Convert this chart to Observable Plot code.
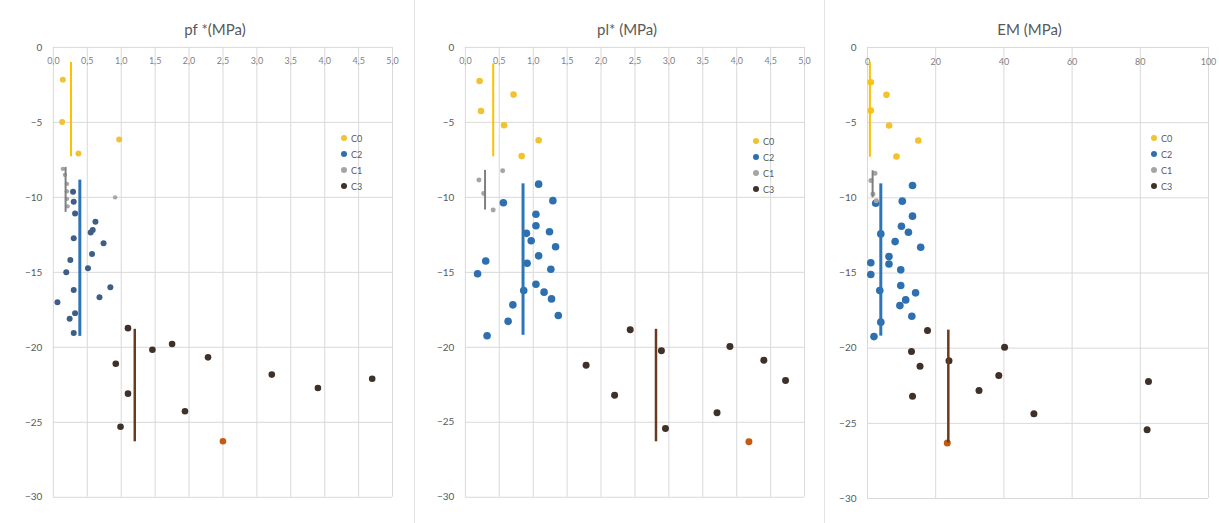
<!DOCTYPE html>
<html><head><meta charset="utf-8">
<script src="https://cdn.jsdelivr.net/npm/d3@7"></script>
<script src="https://cdn.jsdelivr.net/npm/@observablehq/plot@0.6"></script>
<style>
body{margin:0;background:#fff;font-family:Lato,"Liberation Sans",sans-serif;}
#row{display:flex;width:1219px;height:523px;overflow:hidden;}
.panel{position:relative;height:523px;flex:none;}
.sep{border-right:1px solid #e3e3e3;box-sizing:border-box;}
.title{position:absolute;top:20px;font-size:15px;color:#595959;transform:translateX(-50%);white-space:nowrap;}
.legend{position:absolute;font-size:9px;color:#595959;}
.legend div{height:16px;display:flex;align-items:center;}
.legend span{display:inline-block;width:6px;height:6px;border-radius:50%;margin-right:4px;}
</style></head>
<body><div id="row"></div>
<script>
// ---------- data ----------
const classes = ["C0", "C2", "C1", "C3"];
const yTicks = [0, -5, -10, -15, -20, -25, -30];
const mpaTicks = [0, 0.5, 1, 1.5, 2, 2.5, 3, 3.5, 4, 4.5, 5];
const emTicks = [0, 20, 40, 60, 80, 100];
const titles = ["pf *(MPa)", "pl* (MPa)", "EM (MPa)"];

// [value, depth (m)]
const pfC0 = [[0.14, 2.15], [0.13, 4.97], [0.37, 7.07], [0.97, 6.14]];
const pfC1 = [[0.14, 8.1], [0.17, 8.5], [0.2, 9.1], [0.2, 9.6], [0.2, 10.1], [0.21, 10.6], [0.91, 10.0]];
const pfC2 = [[0.29, 9.63], [0.30, 10.29], [0.32, 11.07], [0.62, 11.62], [0.58, 12.18], [0.55, 12.35], [0.30, 12.73],
  [0.74, 13.06], [0.57, 13.77], [0.25, 14.17], [0.51, 14.73], [0.19, 15.0], [0.84, 16.0], [0.30, 16.17],
  [0.68, 16.66], [0.06, 17.0], [0.32, 17.72], [0.24, 18.1], [0.30, 19.05]];
const pfC3 = [[1.10, 18.72], [1.46, 20.16], [1.75, 19.78], [0.92, 21.09], [2.28, 20.67], [3.22, 21.82], [3.90, 22.71],
  [4.70, 22.09], [1.10, 23.09], [1.94, 24.26], [0.99, 25.3], [2.50, 26.26]];
// [class, value, top depth, bottom depth]
const pfLines = [["C0", 0.26, 1.0, 7.3], ["C1", 0.18, 8.0, 11.0], ["C2", 0.39, 8.85, 19.27], ["C3", 1.20, 18.8, 26.3]];

const plC0 = [[0.21, 2.24], [0.71, 3.15], [0.23, 4.24], [0.57, 5.19], [1.08, 6.19], [0.83, 7.25]];
const plC1 = [[0.55, 8.23], [0.20, 8.85], [0.27, 9.74], [0.41, 10.85]];
const plC2 = [[1.08, 9.12], [1.29, 10.22], [0.56, 10.36], [1.04, 11.13], [1.04, 11.89], [0.90, 12.4], [1.24, 12.29],
  [0.97, 12.89], [1.33, 13.29], [1.08, 13.9], [0.30, 14.24], [0.91, 14.4], [1.26, 14.79], [0.18, 15.1],
  [1.04, 15.79], [0.86, 16.21], [1.16, 16.32], [1.27, 16.77], [0.70, 17.17], [1.37, 17.88], [0.63, 18.27], [0.32, 19.23]];
const plC3 = [[2.43, 18.83], [2.89, 20.23], [3.90, 19.94], [1.78, 21.2], [4.40, 20.87], [4.72, 22.22], [2.20, 23.2],
  [3.71, 24.37], [2.95, 25.42], [4.18, 26.3]];
const plLines = [["C0", 0.41, 1.1, 7.3], ["C1", 0.29, 8.2, 10.85], ["C2", 0.85, 9.1, 19.2], ["C3", 2.81, 18.8, 26.3]];

const emC0 = [[0.97, 2.31], [5.56, 3.15], [0.97, 4.19], [6.33, 5.19], [14.9, 6.19], [8.5, 7.25]];
const emC1 = [[2.2, 8.36], [1.0, 8.85], [1.6, 9.74], [2.6, 10.2]];
const emC2 = [[13.2, 9.18], [10.2, 10.22], [2.4, 10.36], [13.2, 11.22], [9.95, 11.89], [12.0, 12.29], [3.9, 12.4],
  [8.1, 12.91], [15.6, 13.29], [6.3, 13.9], [0.97, 14.32], [6.3, 14.4], [9.75, 14.79], [0.97, 15.1],
  [9.75, 15.83], [3.6, 16.17], [14.1, 16.32], [11.2, 16.79], [9.5, 17.17], [13.0, 17.88], [3.9, 18.27], [1.9, 19.23]];
const emC3 = [[17.6, 18.83], [40.2, 19.94], [12.9, 20.23], [23.9, 20.83], [15.4, 21.2], [38.5, 21.82], [82.4, 22.22],
  [32.7, 22.82], [13.2, 23.2], [48.8, 24.37], [82.0, 25.42], [23.4, 26.3]];
const emLines = [["C0", 0.7, 1.0, 7.3], ["C1", 1.5, 8.2, 10.0], ["C2", 3.9, 9.07, 19.2], ["C3", 23.7, 18.8, 26.3]];

// ---------- styles ----------
const dotColor = {C0: "#f2c230", C2: "#2e6fb0", C1: "#a5a5a5", C3: "#3f3128"};
const lineColor = {C0: "#ffc000", C2: "#2e75b6", C1: "#7f7f7f", C3: "#6b3a1e"};
const lineWidth = {C0: 2, C2: 3, C1: 2, C3: 2.5};

const fmtComma = v => v.toFixed(1).replace(".", ",");

const panels = [
  {w: 415, ml: 53, mr: 22, domain: [0, 5], ticks: mpaTicks, fmt: fmtComma, C0: pfC0, C1: pfC1, C2: pfC2, C3: pfC3, lines: pfLines, leg: [341, 130],
   r: {C0: 3, C2: 3, C1: 2.2, C3: 3.3}, c2fill: "#3d5f86"},
  {w: 410, ml: 50, mr: 20, domain: [0, 5], ticks: mpaTicks, fmt: fmtComma, C0: plC0, C1: plC1, C2: plC2, C3: plC3, lines: plLines, leg: [338, 133],
   r: {C0: 3.3, C2: 3.8, C1: 2.5, C3: 3.5}, c2fill: "#2e6fb0"},
  {w: 394, ml: 42, mr: 11, domain: [0, 100], ticks: emTicks, fmt: d3.format("d"), C0: emC0, C1: emC1, C2: emC2, C3: emC3, lines: emLines, leg: [326, 130],
   r: {C0: 3.3, C2: 3.8, C1: 2.5, C3: 3.5}, c2fill: "#2e6fb0"}
];

const row = document.getElementById("row");
panels.forEach((p, i) => {
  const toRows = (arr, c) => arr.map(([v, d]) => ({cls: c, v, d}));
  const dotMarks = ["C0", "C2", "C1", "C3"].map(c =>
    Plot.dot(toRows(p[c], c), {x: "v", y: r => -r.d, r: p.r[c],
      fill: r => (c === "C3" && r.d > 26 ? "#c55a11" : c === "C2" ? p.c2fill : dotColor[c])}));
  const lineRows = p.lines.map(([cls, v, top, bottom]) => ({cls, v, top, bottom}));
  const chart = Plot.plot({
    width: p.w, height: 523,
    marginTop: 47, marginBottom: 25, marginLeft: p.ml, marginRight: p.mr,
    x: {domain: p.domain, label: null},
    y: {domain: [-30, 0], label: null},
    color: {type: "identity"},
    style: {fontFamily: "Lato, 'Liberation Sans', sans-serif", fontSize: "10px", color: "#595959", background: "transparent"},
    marks: [
      Plot.gridX(p.ticks, {stroke: "#d9d9d9", strokeOpacity: 1}),
      Plot.gridY(yTicks, {stroke: "#d9d9d9", strokeOpacity: 1}),
      Plot.axisX(p.ticks, {anchor: "top", tickSize: 0, tickFormat: p.fmt, dy: 26, fontSize: 9, fill: "#7f7f7f", label: null}),
      Plot.axisY(yTicks, {anchor: "left", tickSize: 0, tickPadding: 11, fill: "#595959", label: null}),
      ...dotMarks,
      Plot.ruleX(lineRows, {x: "v", y1: r => -r.top, y2: r => -r.bottom,
        stroke: r => lineColor[r.cls], strokeWidth: r => lineWidth[r.cls]})
    ]
  });
  const div = document.createElement("div");
  div.className = "panel" + (i < 2 ? " sep" : "");
  div.style.width = p.w + "px";
  div.appendChild(chart);
  const t = document.createElement("div");
  t.className = "title";
  t.textContent = titles[i];
  t.style.left = (p.ml + (p.w - p.ml - p.mr) / 2 - 8) + "px";
  div.appendChild(t);
  const lg = document.createElement("div");
  lg.className = "legend";
  lg.style.left = p.leg[0] + "px";
  lg.style.top = p.leg[1] + "px";
  classes.forEach(c => {
    const item = document.createElement("div");
    const sw = document.createElement("span");
    sw.style.background = dotColor[c];
    item.appendChild(sw);
    item.appendChild(document.createTextNode(c));
    lg.appendChild(item);
  });
  div.appendChild(lg);
  row.appendChild(div);
});
</script>
</body></html>
